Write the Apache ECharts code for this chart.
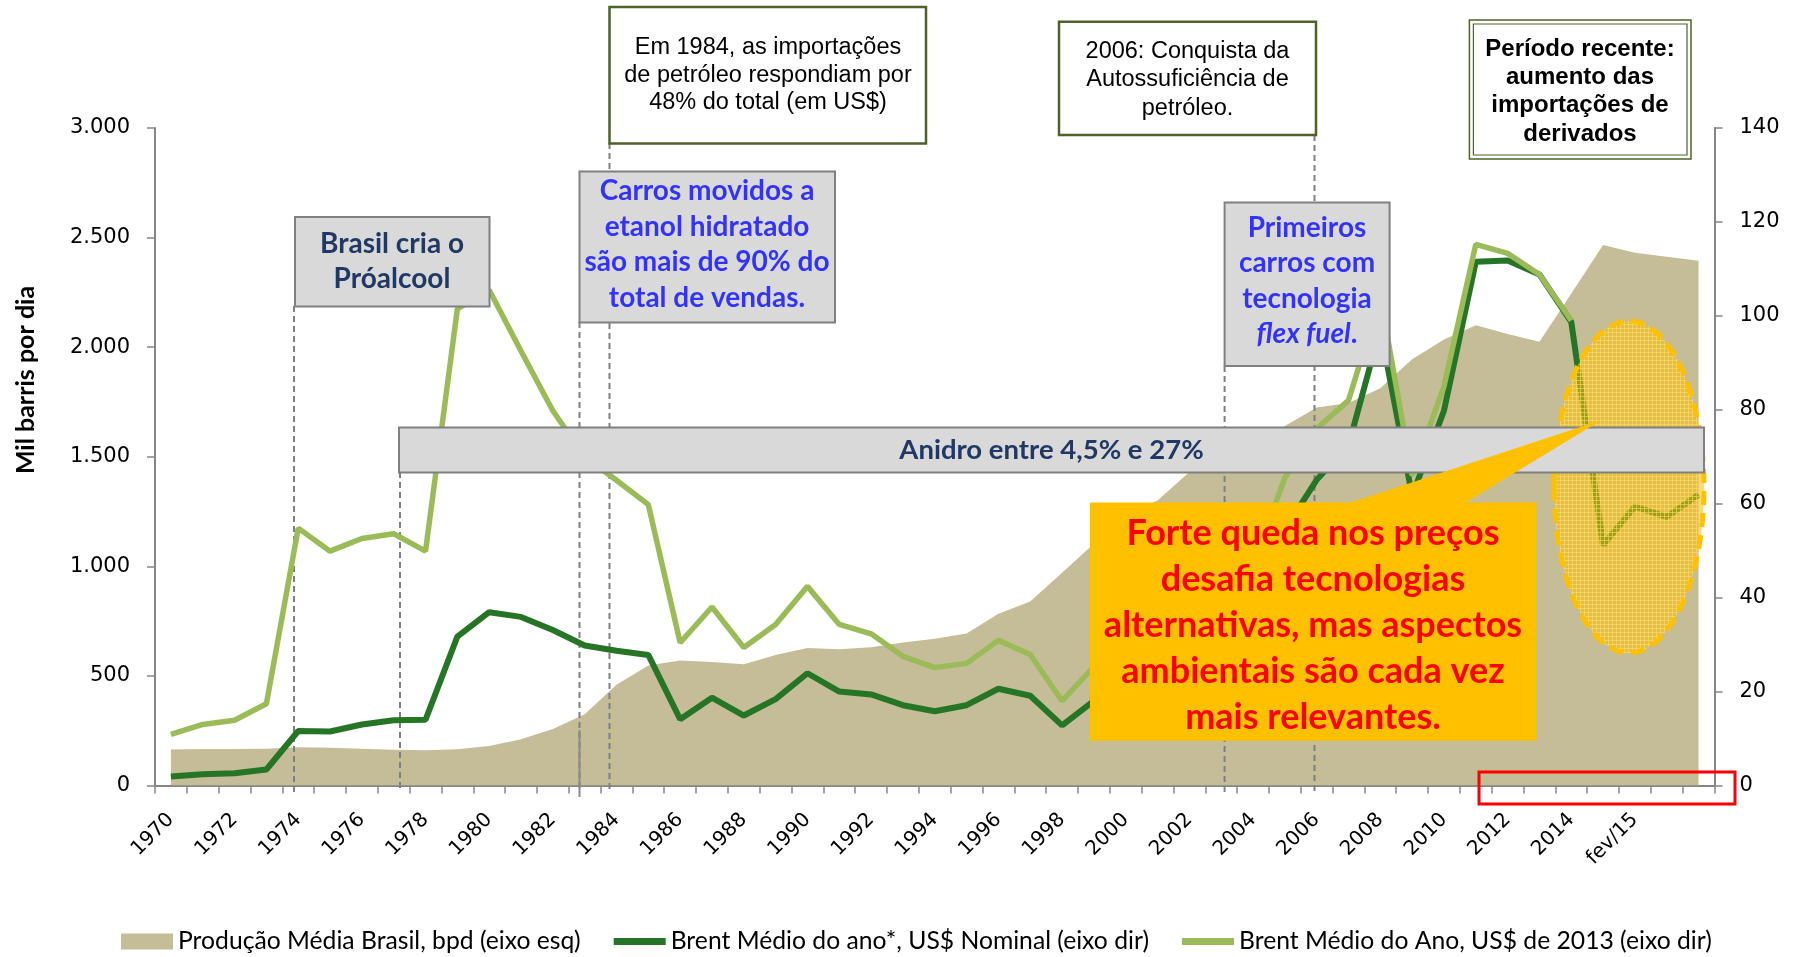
<!DOCTYPE html>
<html>
<head>
<meta charset="utf-8">
<title>Produção Brasil x Brent</title>
<script src="https://cdn.jsdelivr.net/npm/echarts@6.0.0/dist/echarts.min.js"></script>
<style>
  html, body { margin: 0; padding: 0; background: #fff; }
  #chart { width: 1793px; height: 957px; }
</style>
</head>
<body>
<div id="chart"></div>
<script>
// categorias do eixo x
const anos = ['1970', '1971', '1972', '1973', '1974', '1975', '1976', '1977', '1978', '1979',
  '1980', '1981', '1982', '1983', '1984', '1985', '1986', '1987', '1988', '1989',
  '1990', '1991', '1992', '1993', '1994', '1995', '1996', '1997', '1998', '1999',
  '2000', '2001', '2002', '2003', '2004', '2005', '2006', '2007', '2008', '2009',
  '2010', '2011', '2012', '2013', '2014', 'jan/15', 'fev/15', 'mar/15', 'abr/15']

// mil barris por dia (eixo esq)
const producao = [164, 166, 167, 168, 175, 172, 168, 163, 161, 165,
  180, 211, 258, 325, 460, 547, 570, 563, 553, 595,
  627, 622, 631, 652, 670, 693, 784, 839, 971, 1103,
  1236, 1300, 1430, 1500, 1490, 1640, 1725, 1745, 1812, 1945,
  2035, 2100, 2060, 2025, 2245, 2466, 2431, 2413, 2394]

// US$ / barril (eixo dir)
const brentNominal = [1.9, 2.4, 2.6, 3.4, 11.6, 11.5, 13.0, 13.9, 14.0, 31.7,
  36.9, 35.9, 33.1, 29.8, 28.7, 27.8, 14.1, 18.7, 14.9, 18.4,
  23.9, 20.0, 19.4, 17.1, 15.8, 17.1, 20.6, 19.1, 12.8, 18.0,
  28.5, 24.4, 25.0, 28.8, 38.3, 54.5, 65.1, 72.4, 97.3, 61.7,
  79.8, 111.5, 111.8, 108.8, 98.7, 51.2, 59.4, 57.2, 61.9]

const brent2013 = [10.9, 13.0, 13.9, 17.4, 54.8, 49.9, 52.6, 53.6, 49.9, 101.5,
  105.5, 92.5, 79.8, 70.0, 65.0, 59.8, 30.4, 38.0, 29.4, 34.3,
  42.4, 34.3, 32.3, 27.5, 25.1, 26.0, 30.9, 27.9, 18.0, 25.3,
  39.0, 32.5, 32.8, 36.5, 47.0, 65.5, 76.0, 82.0, 104.0, 66.0,
  85.0, 115.2, 113.3, 108.8, 99.0, null, null, null, null]

const nomes = ['Produção Média Brasil, bpd (eixo esq)',
  'Brent Médio do ano*, US$ Nominal (eixo dir)',
  'Brent Médio do Ano, US$ de 2013 (eixo dir)']

const chart = echarts.init(document.getElementById('chart'))

const cinza = '#7F7F7F'
const oliva = '#4F6228'
const calibri = 'Lato, "Noto Sans", sans-serif'
const arial = '"Liberation Sans", Arial, sans-serif'

// padrão quadriculado da elipse
const hatch = document.createElement('canvas')
hatch.width = 4
hatch.height = 4
const hc = hatch.getContext('2d')
hc.fillStyle = 'rgba(255,192,0,0.55)'
hc.fillRect(0, 0, 4, 4)
hc.fillStyle = 'rgba(255,220,110,0.6)'
hc.fillRect(0, 0, 4, 1)
hc.fillRect(0, 0, 1, 4)

const tracejada = (x, y1, y2) => ({
  type: 'line', z: 2, silent: true,
  shape: { x1: x, y1: y1, x2: x, y2: y2 },
  style: { stroke: cinza, lineWidth: 2, lineDash: [6, 4] },
})
const caixa = (x, y, w, h, fill, stroke, lw, z) => ({
  type: 'rect', z: z, silent: true,
  shape: { x: x, y: y, width: w, height: h },
  style: { fill: fill, stroke: stroke, lineWidth: lw },
})
const texto = (x, y, txt, font, fill, lh, z) => ({
  type: 'text', z: z, silent: true, x: x, y: y,
  style: { text: txt, font: font, fill: fill, align: 'center', verticalAlign: 'middle', lineHeight: lh },
})

const elementos = [
  // linhas verticais
  tracejada(294, 306, 792),
  tracejada(400, 472, 792),
  tracejada(579.5, 322, 792),
  { type: 'line', z: 2, silent: true, shape: { x1: 579.5, y1: 730, x2: 579.5, y2: 797 }, style: { stroke: '#8A8A8A', lineWidth: 2 } },
  tracejada(609.5, 143, 792),
  tracejada(1224.6, 366, 792),
  tracejada(1314.5, 135, 792),

  // elipse
  {
    type: 'ellipse', z: 5, silent: true,
    shape: { cx: 1629, cy: 487, rx: 75, ry: 166 },
    style: { fill: { image: hatch, repeat: 'repeat' }, stroke: '#FFC000', lineWidth: 5, lineDash: [14, 8] },
  },

  // Próalcool
  caixa(295, 217, 194.5, 89.5, '#D9D9D9', '#808080', 2, 10),
  texto(392, 261.5, 'Brasil cria o\nPróalcool', 'bold 28px ' + calibri, '#1F3864', 35.4, 11),

  // carros a etanol
  caixa(579.5, 171.5, 255.5, 151, '#D9D9D9', '#808080', 2, 10),
  texto(707, 244.5, 'Carros movidos a\netanol hidratado\nsão mais de 90% do\ntotal de vendas.', 'bold 28px ' + calibri, '#3333FF', 35.5, 11),

  // flex fuel
  caixa(1224.6, 202.4, 165, 163.6, '#D9D9D9', '#808080', 2, 10),
  {
    type: 'text', z: 11, silent: true, x: 1307, y: 281,
    style: {
      text: '{n|Primeiros}\n{n|carros com}\n{n|tecnologia}\n{i|flex fuel}{n|.}',
      align: 'center', verticalAlign: 'middle',
      rich: {
        n: { fontFamily: calibri, fontWeight: 'bold', fontSize: 28, fill: '#3333FF', lineHeight: 35.5 },
        i: { fontFamily: calibri, fontWeight: 'bold', fontStyle: 'italic', fontSize: 28, fill: '#3333FF', lineHeight: 35.5 },
      },
    },
  },

  // anidro
  caixa(399, 427.5, 1305, 45, '#D9D9D9', '#808080', 2, 10),
  texto(1051.5, 450.5, 'Anidro entre 4,5% e 27%', 'bold 27.5px ' + calibri, '#1F3864', 30, 11),

  // caixas do topo
  caixa(609.5, 7, 316.5, 136.5, '#FFFFFF', oliva, 2.5, 10),
  texto(768, 75.5, 'Em 1984, as importações\nde petróleo respondiam por\n48% do total (em US$)', '23.5px ' + arial, '#000', 27.5, 11),
  caixa(1059, 21.7, 257, 113.3, '#FFFFFF', oliva, 2.5, 10),
  texto(1187.5, 80, '2006: Conquista da\nAutossuficiência de\npetróleo.', '23.5px ' + arial, '#000', 28.5, 11),
  caixa(1469.4, 20, 221.6, 139, '#FFFFFF', oliva, 1.5, 10),
  caixa(1473.4, 24, 213.6, 131, null, oliva, 1.2, 10),
  texto(1580, 91.5, 'Período recente:\naumento das\nimportações de\nderivados', 'bold 24px ' + arial, '#000', 28.3, 11),

  // balão amarelo
  {
    type: 'polygon', z: 12, silent: true,
    shape: { points: [[1090, 502.4], [1351, 502.4], [1601.5, 420], [1466, 502.4], [1536.5, 502.4], [1536.5, 740.8], [1090, 740.8]] },
    style: { fill: '#FFC000' },
  },
  texto(1313, 625, 'Forte queda nos preços\ndesafia tecnologias\nalternativas, mas aspectos\nambientais são cada vez\nmais relevantes.', 'bold 36px ' + calibri, '#FF0000', 46, 13),

  // retângulo vermelho
  {
    type: 'rect', z: 12, silent: true,
    shape: { x: 1479, y: 772, width: 256, height: 32 },
    style: { fill: null, stroke: '#FF0000', lineWidth: 3 },
  },

  // título eixo esq
  {
    type: 'text', z: 11, silent: true, x: 26, y: 380, rotation: Math.PI / 2,
    style: { text: 'Mil barris por dia', font: 'bold 25px ' + calibri, fill: '#000', align: 'center', verticalAlign: 'middle' },
  },
]

const milhar = v => String(v).replace(/\B(?=(\d{3})+(?!\d))/g, '.')

chart.setOption({
  animation: false,
  textStyle: { fontFamily: calibri },
  grid: { left: 155, right: 78.5, top: 128, bottom: 171.5 },
  legend: {
    left: 121, top: 929, padding: 0, itemGap: 33,
    itemWidth: 52, itemHeight: 16,
    itemStyle: { borderWidth: 0 },
    textStyle: { fontFamily: calibri, fontSize: 24.7, color: '#000' },
    data: [
      { name: nomes[0], icon: 'rect' },
      { name: nomes[1], icon: 'path://M0,0 L52,0 L52,7 L0,7 Z' },
      { name: nomes[2], icon: 'path://M0,0 L52,0 L52,7 L0,7 Z' },
    ],
  },
  xAxis: {
    type: 'category',
    data: anos,
    boundaryGap: true,
    axisLine: { lineStyle: { color: '#868686', width: 2 } },
    axisTick: { show: true, interval: 0, length: 8, lineStyle: { color: '#868686', width: 1.5 } },
    axisLabel: {
      interval: (i) => i % 2 === 0 && i < 48,
      rotate: 45, margin: 31,
      fontFamily: 'DejaVu Sans', fontSize: 20, color: '#000',
    },
  },
  yAxis: [
    {
      type: 'value', position: 'left', min: 0, max: 3000, interval: 500,
      splitLine: { show: false },
      axisLine: { show: true, lineStyle: { color: '#868686', width: 2 } },
      axisTick: { show: true, length: 8, lineStyle: { color: '#868686', width: 1.5 } },
      axisLabel: { margin: 25, formatter: milhar, fontFamily: 'DejaVu Sans', fontSize: 21, color: '#000' },
    },
    {
      type: 'value', position: 'right', min: 0, max: 140, interval: 20,
      splitLine: { show: false },
      axisLine: { show: true, lineStyle: { color: '#868686', width: 2 } },
      axisTick: { show: true, length: 8, lineStyle: { color: '#868686', width: 1.5 } },
      axisLabel: { margin: 25, fontFamily: 'DejaVu Sans', fontSize: 21, color: '#000' },
    },
  ],
  series: [
    {
      name: nomes[0], type: 'line', yAxisIndex: 0, z: 1,
      data: producao, symbol: 'none', color: '#C4BD97',
      lineStyle: { width: 0 },
      areaStyle: { color: '#C4BD97', opacity: 1 },
    },
    {
      name: nomes[1], type: 'line', yAxisIndex: 1, z: 3,
      data: brentNominal, symbol: 'none', color: '#267526',
      lineStyle: { width: 6 },
    },
    {
      name: nomes[2], type: 'line', yAxisIndex: 1, z: 4,
      data: brent2013, symbol: 'none', color: '#9BBB59',
      lineStyle: { width: 5.5 },
    },
  ],
  graphic: { elements: elementos },
})
</script>
</body>
</html>
